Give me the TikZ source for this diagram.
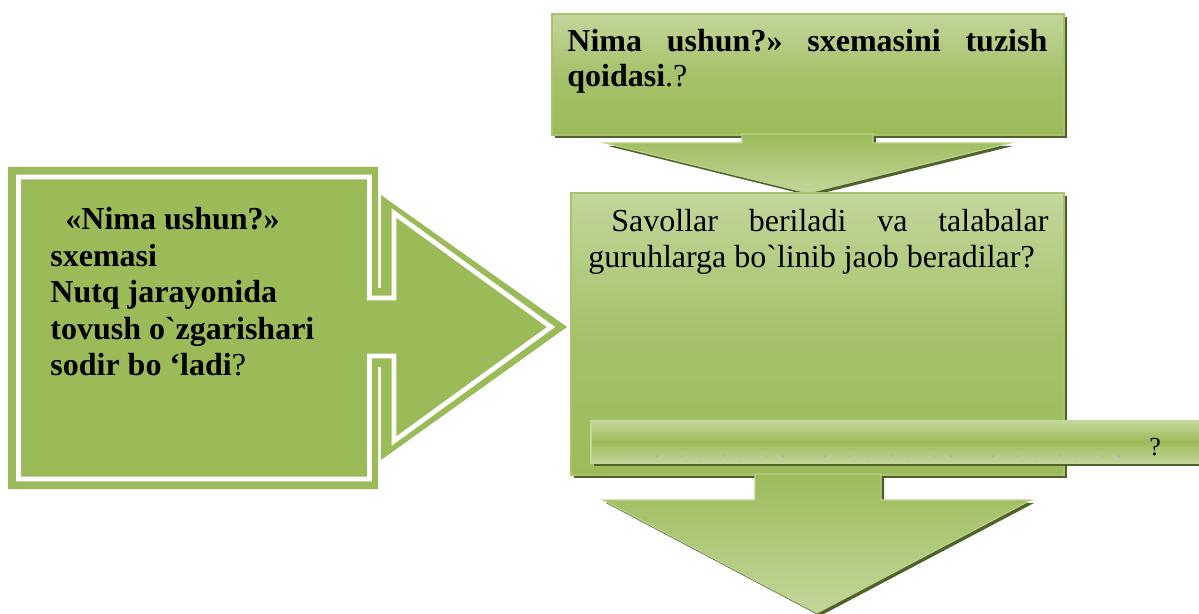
\documentclass[tikz,border=0pt]{standalone}
\usepackage{fontspec}
\setmainfont{Liberation Serif}[Ligatures=TeXOff]
\usetikzlibrary{shadows}
\definecolor{lightGreen}{HTML}{C3D69B}
\definecolor{oliveGreen}{HTML}{9BBB59}
\definecolor{darkGreen}{HTML}{4F6228}
\tikzset{greenShadow/.style={drop shadow={shadow xshift=1.5pt, shadow yshift=-1.5pt, fill=darkGreen, opacity=1}}}
\newcommand{\drawPanel}[1]{\draw [oliveGreen!70!lightGreen, line width=0.6pt, top color=lightGreen, bottom color=oliveGreen, middle color=oliveGreen!75!lightGreen, greenShadow] #1}
\newcommand{\drawDownArrow}[1]{\draw [lightGreen!80!oliveGreen, line width=0.6pt, top color=oliveGreen, bottom color=lightGreen, greenShadow] #1}

\begin{document}
\frenchspacing
\begin{tikzpicture}[x=0.5pt, y=-0.5pt, every node/.style={inner sep=0pt}]
    \useasboundingbox (0,0) rectangle (1199,614);

    % left callout
    \fill [oliveGreen] (8,167) -- (378,167) -- (378,288) -- (381,288) -- (381,195) -- (567,327)
        -- (381,460) -- (381,367) -- (378,367) -- (378,489) -- (8,489) -- cycle;
    \draw [white, line width=2.4pt, line join=miter] (18.5,177) -- (369.5,177) -- (369.5,298) -- (394,298)
        -- (394,213) -- (551,327) -- (394,441) -- (394,356) -- (369.5,356) -- (369.5,479) -- (18.5,479) -- cycle;
    \node [anchor=base west, align=left, font=\bfseries\fontsize{16}{18.3}\selectfont] (schemeText) at (50,376)
        {\hspace*{7.5pt}«Nima ushun?»\\ sxemasi\\ Nutq jarayonida\\ tovush o`zgarishari\\ sodir bo ‘ladi{\mdseries ?}};

    % top callout
    \drawPanel{(552,14) rectangle (1064,135)};
    \drawDownArrow{(742,134) -- (873,134) -- (873,143) -- (1010,143) -- (808,193) -- (605,143) -- (742,143) -- cycle};
    \node [anchor=base west, text width=240pt, align=justify, font=\bfseries\fontsize{16}{17.5}\selectfont] (ruleText) at (567,52)
        {Nima ushun?» sxemasini tuzish\linebreak qoidasi{\mdseries .?}};

    % middle box
    \drawPanel{(571,193) rectangle (1064,475)};
    \node [anchor=base west, text width=230pt, align=justify, font=\fontsize{16}{18}\selectfont] (answerText) at (588,232)
        {\hspace*{11.5pt}Savollar beriladi va talabalar\linebreak guruhlarga bo`linib jaob beradilar?};

    % strip
    \draw [lightGreen, line width=0.6pt, top color=lightGreen, bottom color=lightGreen, middle color=oliveGreen, greenShadow] (591,421) rectangle (1215,463);
    \node [anchor=base west, font=\fontsize{13}{15}\selectfont] (stripMark) at (1149,456) {?};
    \coordinate (leaderStart) at (631,456);
    \draw [gray!60, line width=0.7pt, dash pattern=on 0.7pt off 3.5pt] (leaderStart) -- (stripMark.base west);

    % bottom arrow
    \drawDownArrow{(755,474) -- (881,474) -- (881,500) -- (1031,500) -- (817,613) -- (603,500) -- (755,500) -- cycle};
\end{tikzpicture}
\end{document}
